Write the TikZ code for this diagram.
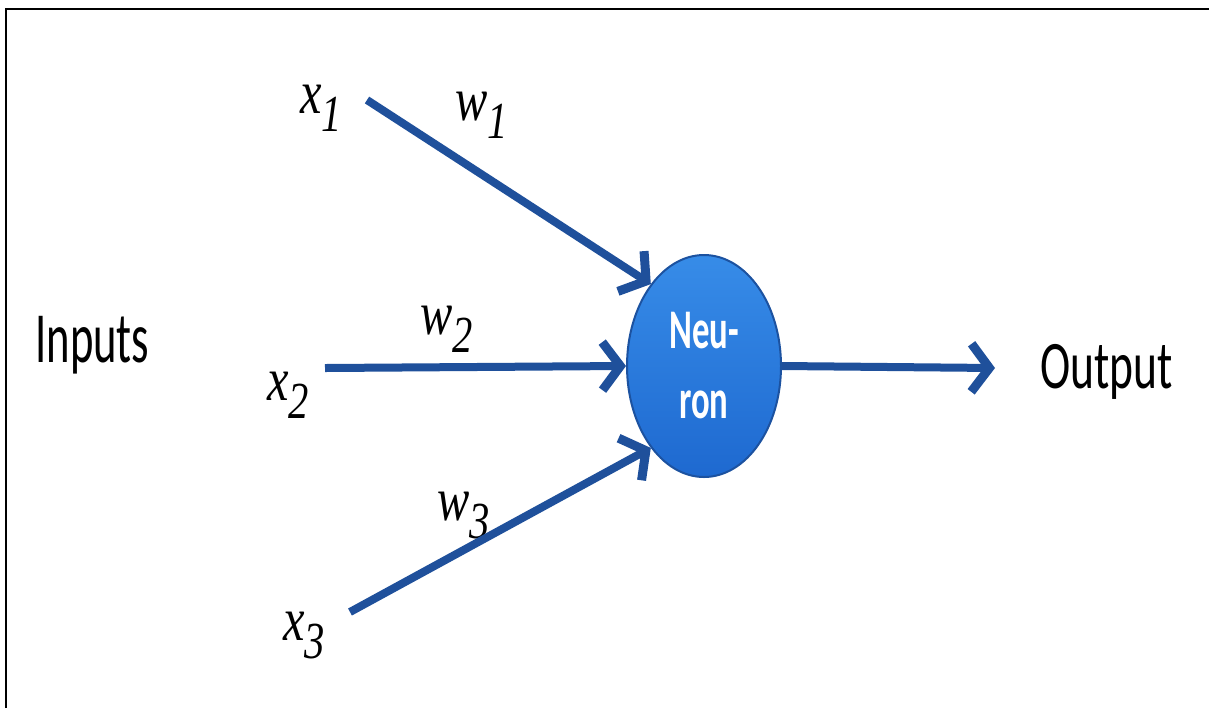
\documentclass[tikz,border=0pt]{standalone}
\usepackage{fontspec}
\usetikzlibrary{shapes.geometric,arrows.meta}
\newfontfamily\serifst[FakeStretch=0.78]{Liberation Serif}
\newfontfamily\sansst[FakeStretch=0.62]{Carlito}
\newfontfamily\outst[FakeStretch=0.67]{Carlito}
\newfontfamily\neurfont[FakeStretch=0.62]{Carlito}
\definecolor{arrowblue}{RGB}{31,80,155}
\definecolor{ballborder}{RGB}{28,82,160}
\definecolor{balltop}{RGB}{55,140,232}
\definecolor{ballbottom}{RGB}{30,105,208}
\newcommand{\vsub}[2]{{\serifst\itshape\fontsize{31}{34}\selectfont #1\raisebox{-0.3em}{\fontsize{26}{28}\selectfont #2}}}
\tikzset{
  varlabel/.style={anchor=base west, inner sep=0pt},
  biglabel/.style={anchor=base west, inner sep=0pt, font=\sansst\fontsize{36}{40}\selectfont},
  conn/.style={draw=arrowblue, line width=4pt,
    -{Straight Barb[length=9pt,width=24pt,line width=4.5pt]}},
  neuronball/.style={ellipse, draw=ballborder, line width=1pt,
    top color=balltop, bottom color=ballbottom,
    minimum width=77pt, minimum height=111pt, inner sep=0pt,
    text=white, align=center,
    font=\neurfont\bfseries\fontsize{28}{35}\selectfont}
}
\begin{document}
\begin{tikzpicture}[x=0.5pt,y=-0.5pt]
\useasboundingbox (0,0) rectangle (1209,708);
% frame
\draw[line width=1pt] (6,708) -- (6,9) -- (1209,9);
% neuron
\node[neuronball] (neuron) at (704,366) {Neu-\\ron};
% labels
\node[biglabel] (inputs) at (35,362) {Inputs};
\node[biglabel, font=\outst\fontsize{34}{40}\selectfont] (output) at (1040,388) {Output};
\node[varlabel] (x1) at (300,113) {\vsub{x}{1}};
\node[varlabel] (x2) at (267,400) {\vsub{x}{2}};
\node[varlabel] (x3) at (283,640) {\vsub{x}{3}};
\node[varlabel] (w1) at (455,120) {\vsub{w}{1}};
\node[varlabel] (w2) at (420,334) {\vsub{w}{2}};
\node[varlabel] (w3) at (437,520) {\vsub{w}{3}};
% connector ends
\coordinate (s1) at (367,100);
\coordinate (s2) at (325,368);
\coordinate (s3) at (350,612);
\coordinate (out) at (995,368);
\draw[conn] (s1) -- (neuron.123);
\draw[conn] (s2) -- (neuron.west);
\draw[conn] (s3) -- (neuron.237);
\draw[conn] (neuron.east) -- (out);
\end{tikzpicture}
\end{document}
